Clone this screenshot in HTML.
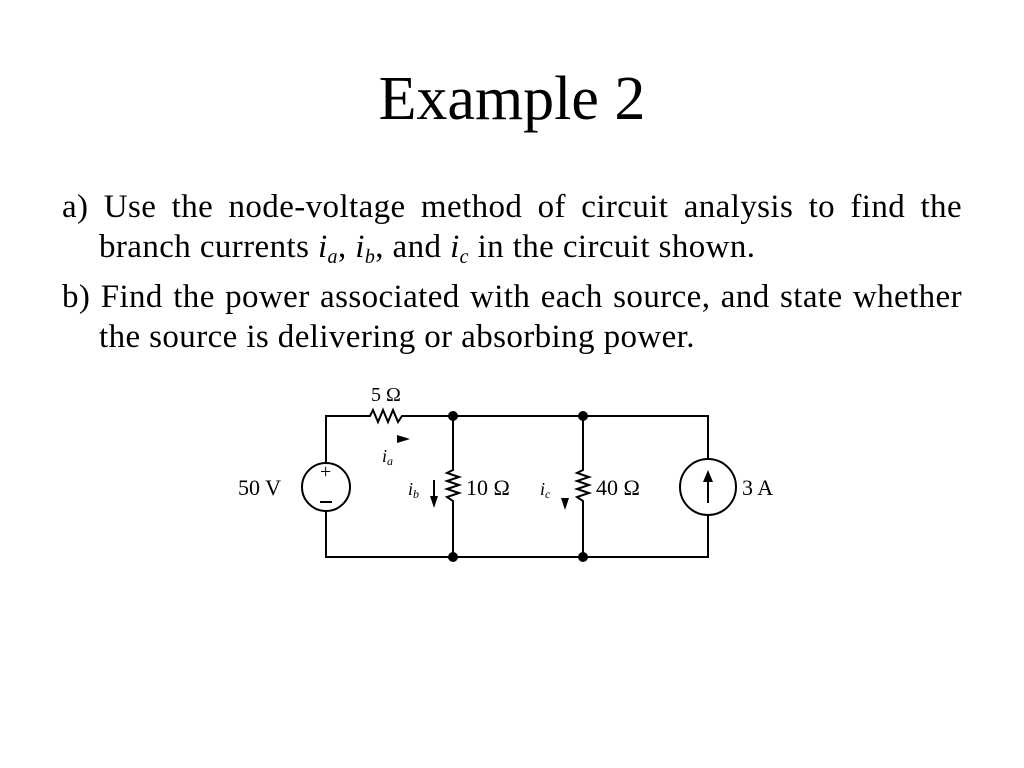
<!DOCTYPE html>
<html><head><meta charset="utf-8"><style>
body{margin:0;width:1024px;height:768px;background:#fff;position:relative;overflow:hidden;font-family:"Liberation Serif",serif;color:#000}
.t{position:absolute;left:0;width:1024px;text-align:center;top:64px;font-size:62px;line-height:70px}
.l{position:absolute;font-size:33px;line-height:36px;white-space:nowrap;letter-spacing:0.4px}
.j{text-align:justify;text-align-last:justify;white-space:normal}
sub{font-size:20px;vertical-align:-6px;line-height:0}
</style></head><body>
<div class="t">Example 2</div>
<div class="l j" style="left:62px;top:189px;width:900px">a) Use the node-voltage method of circuit analysis to find the</div>
<div class="l" style="left:99px;top:229px">branch currents <i>i<sub>a</sub></i>, <i>i<sub>b</sub></i>, and <i>i<sub>c</sub></i> in the circuit shown.</div>
<div class="l j" style="left:62px;top:279px;width:900px">b) Find the power associated with each source, and state whether</div>
<div class="l" style="left:99px;top:319px">the source is delivering or absorbing power.</div>
<svg style="position:absolute;left:0;top:0" width="1024" height="768">
<g stroke="#000" stroke-width="2" fill="none">
<polyline points="326,463 326,416 370,416 373,410 378,422 383,410 388,422 393,410 398,422 402,416 708,416 708,459"/>
<polyline points="326,511 326,557 708,557 708,515"/>
<circle cx="326" cy="487" r="24"/>
<circle cx="708" cy="487" r="28"/>
<polyline points="453,416 453,470 447,473 459,477 447,481 459,485 447,489 459,493 447,497 453,501 453,557"/>
<polyline points="583,416 583,470 577,473 589,477 577,481 589,485 577,489 589,493 577,497 583,501 583,557"/>
<line x1="708" y1="503" x2="708" y2="475"/>
<line x1="434" y1="480" x2="434" y2="500"/>
<line x1="320" y1="502" x2="332" y2="502"/>
</g>
<g fill="#000">
<circle cx="453" cy="416" r="5"/><circle cx="583" cy="416" r="5"/>
<circle cx="453" cy="557" r="5"/><circle cx="583" cy="557" r="5"/>
<polygon points="708,470 703,482 713,482"/>
<polygon points="410,439 397,435 397,443"/>
<polygon points="434,508 430,496 438,496"/>
<polygon points="565,510 561,498 569,498"/>
</g>
<g font-family="Liberation Serif,serif" font-size="22">
<text x="320" y="478" font-size="20">+</text>
<text x="371" y="401" font-size="20">5 Ω</text>
<text x="238" y="495">50 V</text>
<text x="466" y="495">10 Ω</text>
<text x="596" y="495">40 Ω</text>
<text x="742" y="495">3 A</text>
<text x="382" y="462" font-style="italic" font-size="18">i<tspan font-size="12" dy="3">a</tspan></text>
<text x="408" y="495" font-style="italic" font-size="18">i<tspan font-size="12" dy="3">b</tspan></text>
<text x="540" y="495" font-style="italic" font-size="18">i<tspan font-size="12" dy="3">c</tspan></text>
</g>
</svg>
</body></html>
